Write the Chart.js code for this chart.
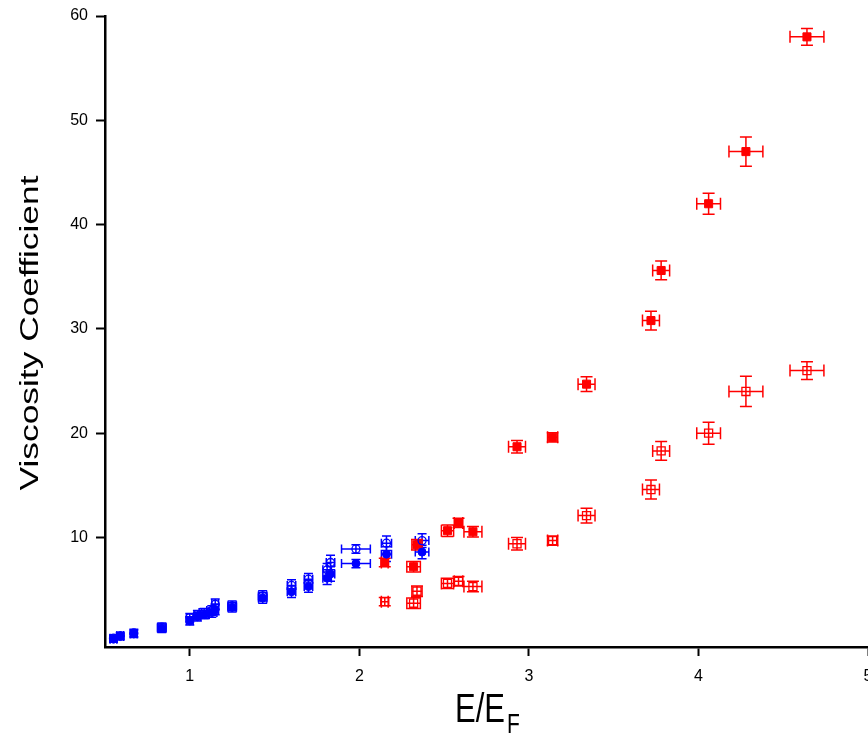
<!doctype html>
<html lang="en">
<head>
<meta charset="utf-8">
<title>Viscosity Coefficient vs E/EF</title>
<script src="https://cdn.jsdelivr.net/npm/chart.js@4.4.1/dist/chart.umd.min.js"></script>
<style>
  html,body{margin:0;background:#fff}
  canvas{display:block}
</style>
</head>
<body>
<canvas id="chart" width="868" height="734"></canvas>
<script>
// Values (x = E/E_F, y = viscosity coefficient).
const redX        = [2.15, 2.32, 2.34, 2.52, 2.585, 2.67, 2.93, 3.14, 3.34, 3.72, 3.78, 4.06, 4.28, 4.64];
const redFilledY  = [7.6, 7.2, 9.3, 10.65, 11.4, 10.55, 18.7, 19.6, 24.7, 30.8, 35.6, 42.0, 47.0, 58.0];
const redFilledXErr = [0.02, 0.04, 0.03, 0.036, 0.025, 0.053, 0.05, 0.03, 0.05, 0.05, 0.05, 0.07, 0.1, 0.1];
const redFilledYErr = [0.4, 0.5, 0.5, 0.55, 0.45, 0.5, 0.6, 0.45, 0.7, 0.9, 0.9, 1.0, 1.4, 0.8];
const redOpenY    = [3.85, 3.7, 4.85, 5.6, 5.8, 5.3, 9.4, 9.7, 12.1, 14.6, 18.3, 20.0, 24.0, 26.0];
const redOpenXErr = [0.02, 0.04, 0.03, 0.036, 0.025, 0.053, 0.05, 0.03, 0.05, 0.05, 0.05, 0.07, 0.1, 0.1];
const redOpenYErr = [0.4, 0.5, 0.5, 0.5, 0.45, 0.5, 0.6, 0.45, 0.7, 0.9, 0.9, 1.05, 1.45, 0.85];

const blueX        = [0.55, 0.59, 0.67, 0.835, 1.0, 1.045, 1.085, 1.13, 1.15, 1.25, 1.43, 1.60, 1.70, 1.81, 1.83, 1.98, 2.16, 2.37];
const blueFilledY  = [0.25, 0.5, 0.75, 1.3, 2.0, 2.4, 2.6, 2.8, 3.1, 3.3, 4.2, 4.8, 5.3, 6.1, 6.5, 7.5, 8.4, 8.6];
const blueOpenY    = [0.35, 0.6, 0.85, 1.4, 2.3, 2.6, 2.8, 3.0, 3.6, 3.45, 4.4, 5.4, 6.0, 6.9, 7.6, 8.9, 9.45, 9.7];
const blueXErr     = [0.02, 0.02, 0.02, 0.025, 0.02, 0.02, 0.03, 0.03, 0.02, 0.025, 0.025, 0.025, 0.025, 0.025, 0.025, 0.085, 0.03, 0.04];
const blueYErr     = [0.3, 0.3, 0.35, 0.4, 0.4, 0.4, 0.4, 0.45, 0.5, 0.45, 0.5, 0.55, 0.55, 0.6, 0.7, 0.4, 0.7, 0.65];

const xTicks = [1, 2, 3, 4, 5];
const yTicks = [10, 20, 30, 40, 50, 60];

const RED = "#ff0000", BLUE = "#0000ff";
const FONT = '"Liberation Sans", Arial, Helvetica, sans-serif';

const pts = (xs, ys) => xs.map((x, i) => ({ x, y: ys[i] }));

// Both-direction error bars with caps, drawn under the markers.
const errorBars = {
  id: "errorBars",
  beforeDatasetsDraw(chart) {
    const { ctx, scales: { x: sx, y: sy } } = chart;
    chart.data.datasets.forEach((ds) => {
      const c = ds.cap;
      ctx.save();
      ctx.strokeStyle = ds.borderColor;
      ctx.lineWidth = 1.5;
      ctx.beginPath();
      ds.data.forEach((p, i) => {
        const px = sx.getPixelForValue(p.x), py = sy.getPixelForValue(p.y);
        const x0 = sx.getPixelForValue(p.x - ds.xErr[i]), x1 = sx.getPixelForValue(p.x + ds.xErr[i]);
        const y0 = sy.getPixelForValue(p.y - ds.yErr[i]), y1 = sy.getPixelForValue(p.y + ds.yErr[i]);
        ctx.moveTo(x0, py); ctx.lineTo(x1, py);
        ctx.moveTo(x0, py - c); ctx.lineTo(x0, py + c);
        ctx.moveTo(x1, py - c); ctx.lineTo(x1, py + c);
        ctx.moveTo(px, y0); ctx.lineTo(px, y1);
        ctx.moveTo(px - c, y0); ctx.lineTo(px + c, y0);
        ctx.moveTo(px - c, y1); ctx.lineTo(px + c, y1);
      });
      ctx.stroke();
      ctx.restore();
    });
  }
};

// Axis titles: the original lettering is tall and narrow, and x has a subscript F.
const axisTitles = {
  id: "axisTitles",
  afterDraw(chart) {
    const ctx = chart.ctx;
    ctx.save();
    ctx.fillStyle = "#000";
    ctx.font = "25px " + FONT;
    const yt = "Viscosity Coefficient";
    const w = ctx.measureText(yt).width;
    ctx.translate(38, 333);
    ctx.rotate(-Math.PI / 2);
    ctx.scale(315 / w, 1);
    ctx.textAlign = "center";
    ctx.textBaseline = "alphabetic";
    ctx.fillText(yt, 0, 0);
    ctx.restore();

    ctx.save();
    ctx.fillStyle = "#000";
    ctx.textBaseline = "alphabetic";
    ctx.translate(455, 722);
    ctx.scale(1, 1.3);
    ctx.font = "31px " + FONT;
    ctx.fillText("E/E", 0, 0);
    const w1 = ctx.measureText("E/E").width;
    ctx.font = "21px " + FONT;
    ctx.fillText("F", w1 + 2, 8.5);
    ctx.restore();
  }
};

const axisCommon = {
  type: "linear",
  border: { display: true, color: "#000", width: 2.5 },
  grid: { display: true, drawOnChartArea: false, drawTicks: true, tickLength: 9, tickWidth: 2, tickColor: "#000" },
  ticks: { color: "#000", font: { family: FONT, size: 16 } },
};

new Chart(document.getElementById("chart"), {
  type: "scatter",
  data: {
    datasets: [
      { data: pts(blueX, blueOpenY), xErr: blueXErr, yErr: blueYErr, cap: 4.5,
        pointStyle: "circle", pointRadius: 4, borderColor: BLUE, backgroundColor: "rgba(0,0,0,0)", borderWidth: 1.3 },
      { data: pts(blueX, blueFilledY), xErr: blueXErr, yErr: blueYErr, cap: 4.5,
        pointStyle: "circle", pointRadius: 4, borderColor: BLUE, backgroundColor: BLUE, borderWidth: 1 },
      { data: pts(redX, redOpenY), xErr: redOpenXErr, yErr: redOpenYErr, cap: 6,
        pointStyle: "rect", pointRadius: 5.7, borderColor: RED, backgroundColor: "rgba(0,0,0,0)", borderWidth: 1.3 },
      { data: pts(redX, redFilledY), xErr: redFilledXErr, yErr: redFilledYErr, cap: 6,
        pointStyle: "rect", pointRadius: 5.7, borderColor: RED, backgroundColor: RED, borderWidth: 1 },
    ]
  },
  options: {
    responsive: false,
    animation: false,
    events: [],
    layout: { autoPadding: false, padding: { top: 16, right: 0, bottom: 0, left: 0 } },
    plugins: { legend: { display: false }, tooltip: { enabled: false } },
    scales: {
      x: {
        ...axisCommon,
        min: 0.5, max: 5,
        ticks: { ...axisCommon.ticks, padding: 11 },
        afterBuildTicks: (s) => { s.ticks = xTicks.map((v) => ({ value: v })); },
        afterFit: (s) => { s.height = 87; s.paddingLeft = 0; s.paddingRight = 0; },
      },
      y: {
        ...axisCommon,
        min: -0.5, max: 60,
        ticks: { ...axisCommon.ticks, padding: 8 },
        afterBuildTicks: (s) => { s.ticks = yTicks.map((v) => ({ value: v })); },
        afterFit: (s) => { s.width = 105; s.paddingTop = 0; s.paddingBottom = 0; },
      },
    },
  },
  plugins: [errorBars, axisTitles],
});
</script>
</body>
</html>
